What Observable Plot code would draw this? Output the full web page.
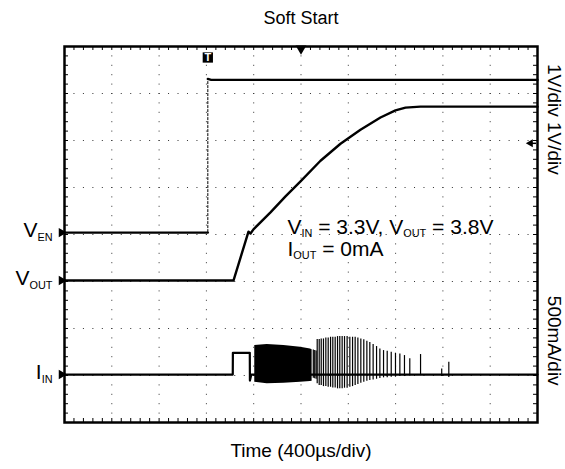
<!DOCTYPE html>
<html><head><meta charset="utf-8">
<script src="https://cdn.jsdelivr.net/npm/d3@7"></script>
<script src="https://cdn.jsdelivr.net/npm/@observablehq/plot@0.6"></script>
<style>
body{margin:0;background:#fff}
#chart svg{display:block;font-family:"Liberation Sans",Arial,sans-serif;background:#fff}
</style>
</head><body><div id="chart"></div>
<script>
// ---- text ----
const title = "Soft Start";
const xLabel = "Time (400µs/div)";
const scaleLabels = ["1V/div 1V/div", "500mA/div"];
const scaleLabelCenterDiv = [6.45, 1.74];
const annotationLines = ["V_{IN} = 3.3V, V_{OUT} = 3.8V", "I_{OUT} = 0mA"];
const annotationTime = [1886, 1886];
const annotationDiv = [4.16, 3.69];

// ---- scope setup: 10 div x 400 µs, 8 vertical divisions ----
const timeDomain = [0, 4000];
const divDomain = [0, 8];
const gridTimes = [400, 800, 1200, 1600, 2000, 2400, 2800, 3200, 3600];
const gridDivs = [1, 2, 3, 4, 5, 6, 7];
const channelNames = ["V_{EN}", "V_{OUT}", "I_{IN}"];
const channelOffsetDiv = [4.04, 3.02, 1.02];
const channelPerDiv = [1, 1, 500];   // V, V, mA
const triggerTime = 1212;
const triggerLevelDiv = 5.94;

// ---- V_EN (V) ----
const venLowTime  = [0, 1212];
const venLowVolts = [0, 0];
const venHighTime  = [1212, 1240, 4000];
const venHighVolts = [3.27, 3.25, 3.25];

// ---- V_OUT (V) ----
const voutTime  = [0, 1429, 1556, 1573, 1598, 1742, 1869, 1996, 2165, 2334, 2503, 2672, 2799, 2884, 3010, 4000];
const voutVolts = [0, 0, 1.04, 1.0, 1.09, 1.45, 1.79, 2.11, 2.55, 2.91, 3.21, 3.47, 3.62, 3.68, 3.70, 3.70];

// ---- I_IN (mA) ----
const iinTime = [0, 1423, 1424, 1567, 1568, 1580, 4000];
const iinMilliamps = [0, 0, 231, 231, -64, 0, 0];
// dense switching burst envelope
const burstTime   = [1609, 1714, 1855, 1996, 2080, 2094];
const burstTop    = [309, 319, 309, 291, 273, 265];
const burstBottom = [-82, -99, -92, -82, -74, -70];
// individual spikes after the burst
const spikeTime   = [2104, 2116, 2128, 2137, 2154, 2171, 2190, 2210, 2230, 2250, 2269, 2289, 2309, 2328, 2348, 2368, 2390, 2413, 2436, 2458, 2481, 2506, 2531, 2557, 2582, 2610, 2639, 2667, 2698, 2729, 2763, 2799, 2836, 2875, 2920, 3011, 3190, 3250];
const spikeTop    = [262, 255, 250, 372, 372, 379, 379, 390, 390, 397, 397, 397, 404, 404, 404, 404, 404, 397, 397, 397, 390, 379, 369, 355, 340, 319, 298, 273, 255, 248, 238, 227, 220, 202, 167, 213, 60, 131];
const spikeBottom = [-40, -45, -50, -99, -117, -117, -128, -128, -135, -135, -142, -142, -152, -152, -152, -145, -145, -135, -128, -117, -106, -92, -82, -71, -64, -57, -50, -43, -35, -35, -28, -28, -21, -21, -14, -11, -20, -30];

// ---- build tables ----
const toDiv = (ch, v) => channelOffsetDiv[ch] + v / channelPerDiv[ch];
const venLow = venLowTime.map((t, i) => ({t, y: toDiv(0, venLowVolts[i])}));
const venHigh = venHighTime.map((t, i) => ({t, y: toDiv(0, venHighVolts[i])}));
const venEdge = [{t: venHighTime[0], y1: venLow[venLow.length - 1].y, y2: venHigh[0].y}];
const vout = voutTime.map((t, i) => ({t, y: toDiv(1, voutVolts[i])}));
const iin = iinTime.map((t, i) => ({t, y: toDiv(2, iinMilliamps[i])}));
const burst = burstTime.map((t, i) => ({t, y1: toDiv(2, burstBottom[i]), y2: toDiv(2, burstTop[i])}));
const spikes = spikeTime.map((t, i) => ({t, y1: toDiv(2, spikeBottom[i]), y2: toDiv(2, spikeTop[i])}));
const channels = channelNames.map((name, i) => ({name, y: channelOffsetDiv[i]}));
const minorX = d3.range(timeDomain[0], timeDomain[1] + 1, 80);
const minorY = d3.range(divDomain[0], divDomain[1] + 0.001, 0.2);
const tickLenT = 4 / 473 * 4000, tickLenD = 4 / 47;

const dotsH = "1,8.46", dotsV = "1,8.4";

const chart = Plot.plot({
  width: 565, height: 469,
  marginTop: 46, marginLeft: 64, marginRight: 28, marginBottom: 47,
  x: {domain: timeDomain, axis: null},
  y: {domain: divDomain, axis: null},
  style: {fontFamily: '"Liberation Sans", Arial, sans-serif', color: "#000", background: "#fff"},
  marks: [
    Plot.ruleX(gridTimes, {stroke: "#333", strokeWidth: 1, strokeDasharray: dotsV}),
    Plot.ruleY(gridDivs, {stroke: "#333", strokeWidth: 1, strokeDasharray: dotsH}),
    // border minor ticks
    Plot.ruleX(minorX, {y1: divDomain[1], y2: divDomain[1] - tickLenD, stroke: "#000", strokeWidth: 1}),
    Plot.ruleX(minorX, {y1: divDomain[0], y2: divDomain[0] + tickLenD, stroke: "#000", strokeWidth: 1}),
    Plot.ruleY(minorY, {x1: timeDomain[0], x2: timeDomain[0] + tickLenT, stroke: "#000", strokeWidth: 1}),
    Plot.ruleY(minorY, {x1: timeDomain[1], x2: timeDomain[1] - tickLenT, stroke: "#000", strokeWidth: 1}),
    // traces
    Plot.areaY(burst, {x: "t", y1: "y1", y2: "y2", fill: "#000"}),
    Plot.ruleX(spikes, {x: "t", y1: "y1", y2: "y2", stroke: "#000", strokeWidth: 1.2}),
    Plot.line(iin, {x: "t", y: "y", stroke: "#000", strokeWidth: 2.2}),
    Plot.line(venLow, {x: "t", y: "y", stroke: "#000", strokeWidth: 2.4}),
    Plot.line(venHigh, {x: "t", y: "y", stroke: "#000", strokeWidth: 2.4}),
    Plot.ruleX(venEdge, {x: "t", y1: "y1", y2: "y2", stroke: "#000", strokeWidth: 1, strokeDasharray: "3,1"}),
    Plot.line(vout, {x: "t", y: "y", stroke: "#000", strokeWidth: 2.4}),
    Plot.frame({stroke: "#000", strokeWidth: 2.5}),
    // markers
    Plot.dot(channels, {x: timeDomain[0], y: "y", symbol: "triangle", rotate: 90, r: 3.5, fill: "#000", dx: -3}),
    Plot.dot([triggerTime], {x: d => d, y: divDomain[1], symbol: "square", r: 5.8, fill: "#000", dy: 11}),
    Plot.text([triggerTime], {x: d => d, y: divDomain[1], text: () => "T", fill: "#fff", fontWeight: "bold", fontSize: 11, dy: 11}),
    Plot.dot([(timeDomain[0] + timeDomain[1]) / 2], {x: d => d, y: divDomain[1], symbol: "triangle", rotate: 180, r: 4, fill: "#000", dy: 2}),
    Plot.dot([triggerLevelDiv], {x: timeDomain[1], y: d => d, symbol: "triangle", rotate: -90, r: 3, fill: "#000", dx: -7}),
    Plot.ruleY([triggerLevelDiv], {x1: timeDomain[1] - 50, x2: timeDomain[1] - 8, stroke: "#000", strokeWidth: 1.5}),
    // labels
    Plot.text(channels, {x: timeDomain[0], y: "y", text: "name", textAnchor: "end", dx: -12, fontSize: 21, dy: -2}),
    Plot.text(annotationLines, {x: (d, i) => annotationTime[i], y: (d, i) => annotationDiv[i], text: d => d, textAnchor: "start", fontSize: 21}),
    Plot.text([title], {frameAnchor: "top", dy: -28, lineAnchor: "middle", fontSize: 18}),
    Plot.text([xLabel], {frameAnchor: "bottom", dy: 28, lineAnchor: "middle", fontSize: 19}),
    Plot.text(scaleLabels, {x: timeDomain[1], y: (d, i) => scaleLabelCenterDiv[i], text: d => d, rotate: 90, dx: 17, fontSize: 19})
  ]
});

// subscript rendering for "_{...}"
d3.select(chart).selectAll("text").each(function () {
  const s = this.textContent;
  if (!s.includes("_{")) return;
  const fs = parseFloat(getComputedStyle(this).fontSize) || 16;
  const shift = fs * 0.22;
  const sel = d3.select(this);
  sel.text("");
  let down = false;
  for (const p of s.split(/(_\{[^}]*\})/)) {
    if (!p) continue;
    const ts = sel.append("tspan");
    if (p.startsWith("_{")) {
      ts.text(p.slice(2, -1)).attr("font-size", fs * 0.68);
      if (!down) { ts.attr("dy", shift); down = true; }
    } else {
      ts.text(p);
      if (down) { ts.attr("dy", -shift); down = false; }
    }
  }
});

document.getElementById("chart").append(chart);
</script>
</body></html>
